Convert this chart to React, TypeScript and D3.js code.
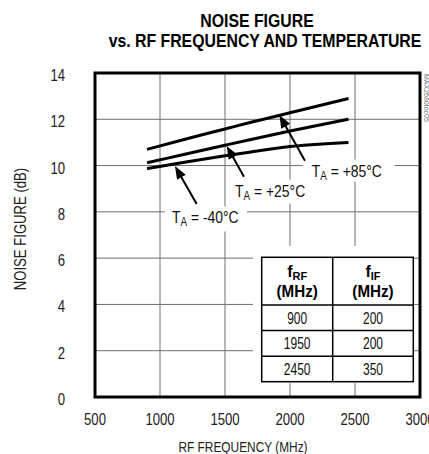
import * as d3 from "d3";

// chart data
const freqs = [900, 1200, 1500, 1700, 2000, 2450];
const nfHot = [10.7, 11.15, 11.58, 11.87, 12.28, 12.9];   // TA = +85°C
const nfRoom = [10.12, 10.5, 10.88, 11.13, 11.49, 12.0];  // TA = +25°C
const nfCold = [9.87, 10.15, 10.42, 10.59, 10.82, 11.0];  // TA = -40°C

const xTicks = [500, 1000, 1500, 2000, 2500, 3000];
const yTicks = [0, 2, 4, 6, 8, 10, 12, 14];

const tableRF = ["900", "1950", "2450"];
const tableIF = ["200", "200", "350"];

// label text, label anchor (f, NF), arrow tail, arrow tip
const notes = [
  { sign: "-40°C", at: [1092, 7.5], tail: [1282, 8.34], tip: [1115, 9.98], box: [-7, -17, 82, 25] },
  { sign: "+25°C", at: [1577, 8.66], tail: [1646, 9.52], tip: [1513, 10.85], box: [-7, -17, 84, 24] },
  { sign: "+85°C", at: [2167, 9.52], tail: [2115, 10.21], tip: [1918, 12.19], box: [-9, -17, 92, 22] },
];

const W = 429;
const H = 454;
const font = "'Liberation Sans', Arial, sans-serif";

const x = d3.scaleLinear().domain([500, 3000]).range([95, 420]);
const y = d3.scaleLinear().domain([0, 14]).range([397, 73]);

function NText({ x, y, size, sx = 0.82, weight = "normal", anchor = "start", fill = "#111", rotate = 0, children }: any) {
  return (
    <text
      transform={`translate(${x},${y}) rotate(${rotate}) scale(${sx},1)`}
      fontSize={size}
      fontWeight={weight}
      textAnchor={anchor}
      fill={fill}
      fontFamily={font}
    >
      {children}
    </text>
  );
}

function Arrow({ tail, tip }: any) {
  const x0 = x(tail[0]), y0 = y(tail[1]);
  const x1 = x(tip[0]), y1 = y(tip[1]);
  const dx = x1 - x0, dy = y1 - y0;
  const len = Math.hypot(dx, dy);
  const ux = dx / len, uy = dy / len;
  const hl = 13, hw = 5;
  const bx = x1 - ux * hl, by = y1 - uy * hl;
  const pts = [
    [x1, y1],
    [bx - uy * hw, by + ux * hw],
    [bx + uy * hw, by - ux * hw],
  ];
  return (
    <g>
      <line x1={x0} y1={y0} x2={bx + ux * 2} y2={by + uy * 2} stroke="#000" strokeWidth={2} />
      <polygon points={pts.map((p) => p.join(",")).join(" ")} fill="#000" />
    </g>
  );
}

export default function App() {
  const line = d3
    .line<number>()
    .x((_, i) => x(freqs[i]))
    .y((d) => y(d))
    .curve(d3.curveMonotoneX);

  const [x0, x1] = x.range();
  const [y0, y1] = y.range();

  // table geometry
  const tL = 261.7, tR = 413.3, tT = 257.3, tB = 381.7, tMid = 332.7, tHead = 305;
  const rowH = (tB - tHead) / tableRF.length;

  return (
    <svg width={W} height={H} style={{ position: "absolute", left: 0, top: 0, background: "#fff" }}>
      <rect width={W} height={H} fill="#fff" />

      {/* title */}
      <NText x={257} y={26.5} size={18} sx={0.88} weight="bold" anchor="middle" fill="#000">
        NOISE FIGURE
      </NText>
      <NText x={265} y={46.5} size={18} sx={0.88} weight="bold" anchor="middle" fill="#000">
        vs. RF FREQUENCY AND TEMPERATURE
      </NText>

      {/* grid */}
      <g stroke="#6e6e6e" strokeWidth={1}>
        {xTicks.slice(1, -1).map((t) => (
          <line key={"gx" + t} x1={x(t)} x2={x(t)} y1={y1} y2={y0} />
        ))}
        {yTicks.slice(1, -1).map((t) => (
          <line key={"gy" + t} x1={x0} x2={x1} y1={y(t)} y2={y(t)} />
        ))}
      </g>

      {/* white patches behind labels and table */}
      {notes.map((n, i) => (
        <rect
          key={"bg" + i}
          x={x(n.at[0]) + n.box[0]}
          y={y(n.at[1]) + n.box[1]}
          width={n.box[2]}
          height={n.box[3]}
          fill="#fff"
        />
      ))}
      <rect x={253} y={246} width={tR - 253} height={383 - 246} fill="#fff" />

      {/* curves */}
      <g fill="none" stroke="#000" strokeWidth={3}>
        <path d={line(nfHot) || ""} />
        <path d={line(nfRoom) || ""} />
        <path d={line(nfCold) || ""} />
      </g>

      {/* annotations */}
      {notes.map((n, i) => (
        <g key={"n" + i}>
          <Arrow tail={n.tail} tip={n.tip} />
          <text
            transform={`translate(${x(n.at[0])},${y(n.at[1])}) scale(0.82,1)`}
            fontSize={17}
            fontFamily={font}
            fill="#111"
          >
            T
            <tspan fontSize={12} dy={3}>A</tspan>
            <tspan dy={-3}>{" = " + n.sign}</tspan>
          </text>
        </g>
      ))}

      {/* table */}
      <g stroke="#000" strokeWidth={1.5} fill="none">
        <rect x={tL} y={tT} width={tR - tL} height={tB - tT} />
        <line x1={tMid} x2={tMid} y1={tT} y2={tB} />
        {tableRF.map((_, i) => (
          <line key={"tr" + i} x1={tL} x2={tR} y1={tHead + i * rowH} y2={tHead + i * rowH} />
        ))}
      </g>
      <text x={(tL + tMid) / 2} y={276.7} textAnchor="middle" fontFamily={font} fontWeight="bold" fontSize={16} fill="#000">
        f<tspan fontSize={11} dy={3}>RF</tspan>
      </text>
      <text x={(tMid + tR) / 2} y={276.7} textAnchor="middle" fontFamily={font} fontWeight="bold" fontSize={16} fill="#000">
        f<tspan fontSize={11} dy={3}>IF</tspan>
      </text>
      <NText x={(tL + tMid) / 2} y={296.7} size={16} sx={0.95} weight="bold" anchor="middle" fill="#000">
        (MHz)
      </NText>
      <NText x={(tMid + tR) / 2} y={296.7} size={16} sx={0.95} weight="bold" anchor="middle" fill="#000">
        (MHz)
      </NText>
      {tableRF.map((v, i) => (
        <g key={"row" + i}>
          <NText x={(tL + tMid) / 2} y={tHead + (i + 0.5) * rowH + 6} size={16} sx={0.75} anchor="middle">
            {v}
          </NText>
          <NText x={(tMid + tR) / 2} y={tHead + (i + 0.5) * rowH + 6} size={16} sx={0.75} anchor="middle">
            {tableIF[i]}
          </NText>
        </g>
      ))}

      {/* frame */}
      <rect x={x0} y={y1} width={x1 - x0} height={y0 - y1} fill="none" stroke="#000" strokeWidth={3} />

      {/* tick labels */}
      {yTicks.map((t) => (
        <NText key={"yl" + t} x={65} y={y(t) + 8} size={16} anchor="end" fill="#222">
          {t}
        </NText>
      ))}
      {xTicks.map((t) => (
        <NText key={"xl" + t} x={x(t)} y={425} size={16} anchor="middle" fill="#222">
          {t}
        </NText>
      ))}

      {/* axis titles */}
      <NText x={26} y={229} size={16} rotate={-90} anchor="middle" fill="#222">
        NOISE FIGURE (dB)
      </NText>
      <NText x={243} y={452} size={14.5} anchor="middle" fill="#222">
        RF FREQUENCY (MHz)
      </NText>

      {/* part code */}
      <text transform="translate(424,74) rotate(90)" fontSize={7} fontFamily={font} fill="#777">
        MAX2680toc05
      </text>
    </svg>
  );
}
